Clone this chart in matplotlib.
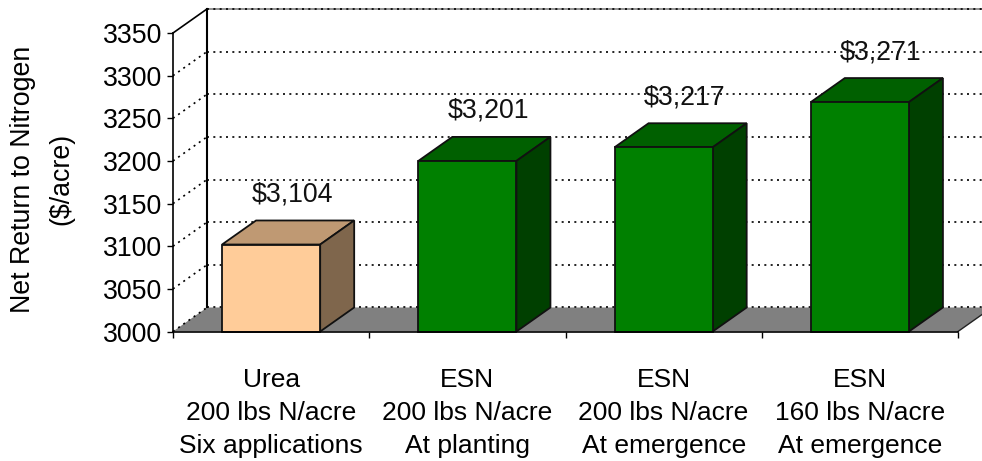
import matplotlib
matplotlib.use("Agg")
import matplotlib.pyplot as plt
from matplotlib.patches import Polygon

plt.rcParams["font.family"] = ["Liberation Sans", "DejaVu Sans"]

# DATA
categories = [
    "Urea\n200 lbs N/acre\nSix applications",
    "ESN\n200 lbs N/acre\nAt planting",
    "ESN\n200 lbs N/acre\nAt emergence",
    "ESN\n160 lbs N/acre\nAt emergence",
]
values = [3102, 3200, 3216, 3269]
value_labels = ["$3,104", "$3,201", "$3,217", "$3,271"]
y_ticks = [3000, 3050, 3100, 3150, 3200, 3250, 3300, 3350]
front_colors = ["#FFCC99", "#008000", "#008000", "#008000"]
top_colors = ["#BF9973", "#006000", "#006000", "#006000"]
side_colors = ["#7F664C", "#004000", "#004000", "#004000"]

W, H = 982, 461
Y_MIN, Y_MAX = 3000, 3350
# 3d depth in data units
DX = 34 / 196.25
DY = 24 / 42.6 * 50
BAR_W = 0.5
DOTS = (0, (1.2, 2.6))
FS = 19.3

fig = plt.figure(figsize=(9.82, 4.61), dpi=100)
ax = fig.add_axes([173 / W, 1 - 331.5 / H, 785 / W, 298.5 / H])
ax.set_xlim(0, 4)
ax.set_ylim(Y_MIN, Y_MAX)
for s in ["top", "right"]:
    ax.spines[s].set_visible(False)
for s in ["left", "bottom"]:
    ax.spines[s].set_linewidth(1.2)
    ax.spines[s].set_zorder(6)

# floor
ax.add_patch(Polygon([(0, Y_MIN), (4, Y_MIN), (4 + DX, Y_MIN + DY), (DX, Y_MIN + DY)],
                     facecolor="#808080", edgecolor="none", clip_on=False, zorder=1))

# gridlines on back and side wall
for v in y_ticks:
    ls = "-" if v == Y_MAX else DOTS
    ax.plot([DX, 4 + DX], [v + DY, v + DY], color="black", lw=1.2, ls=DOTS,
            clip_on=False, zorder=2)
    if v == Y_MAX:
        ax.plot([DX, 4 + DX], [v + DY, v + DY], color="#808080", lw=1.2,
                clip_on=False, zorder=1.5)
    ax.plot([0, DX], [v, v + DY], color="black", lw=1.2, ls=ls, clip_on=False, zorder=2)

# back wall edge
ax.plot([DX, DX], [Y_MIN + DY, Y_MAX + DY], color="black", lw=1.5, clip_on=False, zorder=2)
ax.plot([4, 4 + DX], [Y_MIN, Y_MIN + DY], color="#222222", lw=1, clip_on=False, zorder=2)

# bars
for i, v in enumerate(values):
    x0 = i + 0.5 - BAR_W / 2
    x1 = x0 + BAR_W
    ax.add_patch(Polygon([(x0, v), (x1, v), (x1 + DX, v + DY), (x0 + DX, v + DY)],
                         facecolor=top_colors[i], edgecolor="#111111", lw=1.3,
                         clip_on=False, zorder=3))
    ax.add_patch(Polygon([(x1, Y_MIN), (x1 + DX, Y_MIN + DY), (x1 + DX, v + DY), (x1, v)],
                         facecolor=side_colors[i], edgecolor="#111111", lw=1.3,
                         clip_on=False, zorder=3))
    ax.add_patch(Polygon([(x0, Y_MIN), (x1, Y_MIN), (x1, v), (x0, v)],
                         facecolor=front_colors[i], edgecolor="#111111", lw=1.3,
                         clip_on=False, zorder=4))
    ax.annotate(value_labels[i], (i + 0.5, v), xytext=(15, 36), textcoords="offset points",
                ha="center", va="center", fontsize=FS, color="#111111",
                annotation_clip=False, zorder=7)

# axes ticks and labels
ax.set_yticks(y_ticks)
ax.tick_params(axis="y", labelsize=FS, length=4.5, width=1, pad=3)
ax.set_xticks(range(5))
ax.set_xticklabels([])
ax.tick_params(axis="x", which="major", length=4.5, width=1)
ax.set_xticks([i + 0.5 for i in range(4)], minor=True)
ax.set_xticklabels(categories, minor=True, fontsize=19, linespacing=1.49)
ax.tick_params(axis="x", which="minor", length=0, pad=26)

fig.text(23 / W, 1 - 179 / H, "Net Return to Nitrogen", rotation=90,
         ha="center", va="center", fontsize=FS)
fig.text(61 / W, 1 - 179 / H, "($/acre)", rotation=90,
         ha="center", va="center", fontsize=FS)

fig.savefig("out.png", dpi=100)
